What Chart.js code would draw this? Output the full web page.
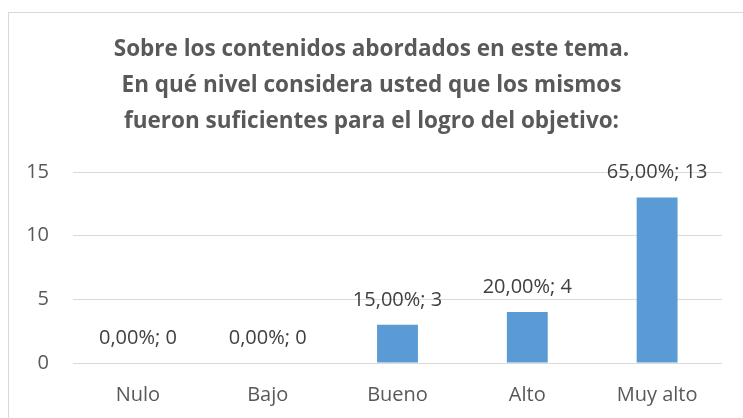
<!DOCTYPE html>
<html>
<head>
<meta charset="utf-8">
<script src="https://cdn.jsdelivr.net/npm/chart.js@4"></script>
<style>
  html, body { margin: 0; padding: 0; background: #fff; }
  #wrap { position: relative; width: 743px; height: 418px; overflow: hidden; }
  #frame { position: absolute; left: 8px; top: 12px; width: 760px; height: 440px; border: 1px solid #d9d9d9; box-sizing: border-box; }
  canvas { position: absolute; left: 0; top: 0; }
</style>
</head>
<body>
<div id="wrap">
  <div id="frame"></div>
  <canvas id="chart" width="743" height="418"></canvas>
</div>
<script>
const titleLines = [
  "Sobre los contenidos abordados en este tema.",
  "En qué nivel considera usted que los mismos",
  "fueron suficientes para el logro del objetivo:"
];
const categories = ["Nulo", "Bajo", "Bueno", "Alto", "Muy alto"];
const counts = [0, 0, 3, 4, 13];
const percents = ["0,00%", "0,00%", "15,00%", "20,00%", "65,00%"];
const yTicks = [0, 5, 10, 15];

const fontFamily = "'Open Sans', sans-serif";

const barLabels = {
  id: "barLabels",
  afterDatasetsDraw(chart) {
    const ctx = chart.ctx;
    const meta = chart.getDatasetMeta(0);
    ctx.save();
    ctx.font = "20px " + fontFamily;
    ctx.fillStyle = "#404040";
    ctx.textAlign = "center";
    ctx.textBaseline = "middle";
    meta.data.forEach((bar, i) => {
      ctx.fillText(percents[i] + "; " + counts[i], bar.x, bar.y - 25);
    });
    ctx.restore();
  }
};

document.addEventListener("DOMContentLoaded", () => {
  const ctx = document.getElementById("chart").getContext("2d");
  new Chart(ctx, {
    type: "bar",
    data: {
      labels: categories,
      datasets: [{
        data: counts,
        backgroundColor: "#5b9bd5",
        borderWidth: 0,
        categoryPercentage: 1,
        barPercentage: 0.315
      }]
    },
    options: {
      responsive: false,
      animation: false,
      layout: { padding: { left: 21, right: 21, top: 0, bottom: 0 } },
      plugins: {
        legend: { display: false },
        tooltip: { enabled: false },
        title: {
          display: true,
          text: titleLines,
          color: "#595959",
          font: { family: fontFamily, size: 22.5, weight: "bold", lineHeight: 1.6 },
          padding: { top: 32, bottom: 32 }
        }
      },
      scales: {
        x: {
          grid: { display: false, drawTicks: false },
          border: { display: false },
          ticks: { color: "#595959", font: { family: fontFamily, size: 20 }, padding: 20 },
          afterFit(scale) { scale.height = 55; }
        },
        y: {
          min: 0,
          max: 15,
          afterBuildTicks(scale) { scale.ticks = yTicks.map(v => ({ value: v })); },
          grid: { color: "#d9d9d9", lineWidth: 1, drawTicks: false },
          border: { display: false },
          ticks: { color: "#595959", font: { family: fontFamily, size: 20 }, padding: 24 },
          afterFit(scale) { scale.width = 52; }
        }
      }
    },
    plugins: [barLabels]
  });
});
</script>
</body>
</html>
